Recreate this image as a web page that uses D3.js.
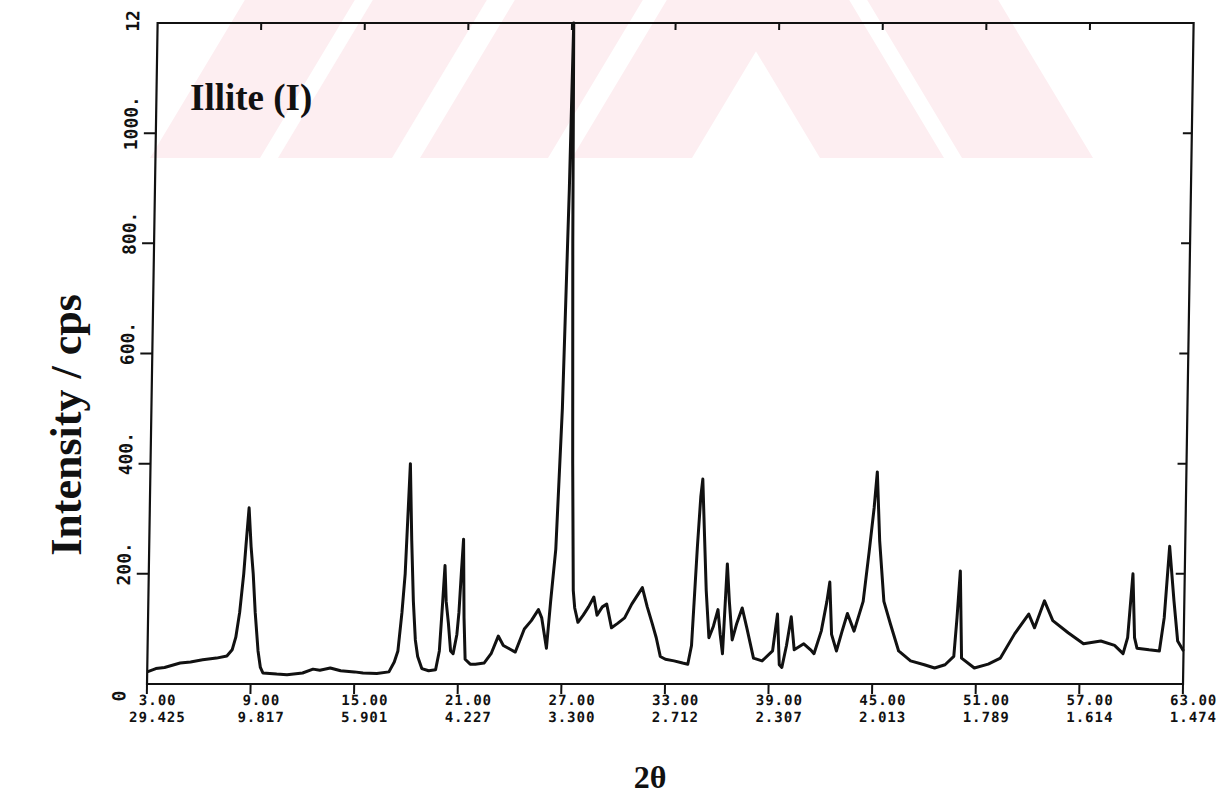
<!DOCTYPE html>
<html lang="en">
<head>
<meta charset="UTF-8">
<title>illite-xrd</title>
<script src="https://cdn.jsdelivr.net/npm/d3@7/dist/d3.min.js"></script>
<style>
    body { margin: 0; background: #fff; }
    svg { display: block; }
    .tick-label {
        font-family: "DejaVu Sans Mono", monospace;
        font-weight: bold;
        fill: #111;
    }
    .title {
        font-family: "Liberation Serif", "Times New Roman", serif;
        font-weight: bold;
        fill: #111;
    }
</style>
</head>
<body>
<svg class="chart"></svg>
<script>
    // diffractogram (2theta in degrees, counts per second)
    var twoTheta = [3.0, 3.5, 4.0, 4.9, 5.5, 6.2, 7.0, 7.6, 7.9, 8.1, 8.3, 8.5, 8.6, 8.75, 8.9, 9.05, 9.2, 9.4, 9.55, 9.7,
        10.5, 11.1, 12.0, 12.6, 13.0, 13.6, 14.2, 15.0, 15.5, 16.3, 17.0, 17.3, 17.5, 17.7, 17.85, 17.95, 18.05, 18.2, 18.35, 18.5,
        18.65, 18.9, 19.3, 19.7, 19.9, 20.05, 20.15, 20.25, 20.4, 20.55, 20.7, 20.9, 21.0, 21.1, 21.2, 21.3, 21.4, 21.7, 22.0, 22.5,
        22.9, 23.3, 23.6, 24.0, 24.3, 24.8, 25.2, 25.6, 25.8, 26.1, 26.3, 26.55, 26.8, 27.0, 27.1, 27.25, 27.45, 27.6, 27.7, 27.9,
        28.2, 28.5, 28.8, 29.0, 29.3, 29.55, 29.85, 30.2, 30.6, 31.0, 31.3, 31.6, 31.9, 32.2, 32.45, 32.7, 33.0, 33.5, 34.0, 34.3,
        34.5, 34.75, 34.9, 35.0, 35.15, 35.3, 35.5, 35.75, 36.0, 36.15, 36.3, 36.5, 36.65, 36.85, 37.1, 37.4, 37.7, 38.1, 38.6, 39.2,
        39.45, 39.6, 39.75, 40.0, 40.25, 40.45, 41.0, 41.4, 41.6, 42.0, 42.3, 42.45, 42.6, 42.9, 43.2, 43.5, 43.9, 44.4, 44.7, 44.95,
        45.1, 45.3, 45.6, 46.0, 46.5, 47.2, 48.0, 48.6, 49.2, 49.7, 49.85, 50.0, 50.15, 50.9, 51.7, 52.4, 53.2, 54.0, 54.35, 54.9,
        55.4, 56.3, 57.2, 58.2, 59.0, 59.5, 59.75, 60.0, 60.15, 60.3, 61.0, 61.6, 61.85, 62.1, 62.4, 62.65, 63.0];
    var intensity = [22, 28, 30, 38, 40, 44, 47, 51, 62, 85, 130, 200, 250, 320, 250, 200, 130, 60, 30, 20,
        18, 17, 20, 27, 25, 29, 24, 22, 20, 19, 22, 40, 60, 130, 200, 300, 400, 260, 150, 80,
        50, 28, 24, 26, 60, 150, 215, 150, 110, 60, 55, 90, 130, 200, 263, 120, 45, 36, 36, 38,
        55, 87, 70, 63, 58, 100, 115, 135, 120, 65, 150, 245, 500, 900, 1200, 800, 400, 170, 138, 112,
        125, 140, 158, 125, 140, 145, 102, 110, 120, 145, 160, 175, 140, 110, 84, 50, 45, 42, 38, 36,
        70, 250, 340, 372, 270, 170, 84, 105, 135, 90, 55, 218, 150, 80, 110, 138, 100, 47, 42, 60,
        127, 35, 30, 70, 122, 62, 73, 62, 55, 96, 150, 185, 90, 60, 95, 128, 96, 150, 240, 320,
        385, 260, 150, 109, 60, 42, 35, 29, 35, 50, 120, 205, 47, 29, 36, 47, 91, 127, 102, 151,
        115, 93, 73, 78, 70, 55, 84, 200, 84, 65, 62, 60, 120, 250, 151, 78, 60];

    var xTicks = [3, 9, 15, 21, 27, 33, 39, 45, 51, 57, 63];
    var xTickLabels = ["3.00", "9.00", "15.00", "21.00", "27.00", "33.00", "39.00", "45.00", "51.00", "57.00", "63.00"];
    var dSpacingLabels = ["29.425", "9.817", "5.901", "4.227", "3.300", "2.712", "2.307", "2.013", "1.789", "1.614", "1.474"];
    var yTicks = [0, 200, 400, 600, 800, 1000, 1200];
    var yTickLabels = ["0", "200.", "400.", "600.", "800.", "1000.", "12"];

    var width = 1232;
    var height = 803;

    var svg = d3.select('.chart')
        .attr('width', width)
        .attr('height', height);

    var x = d3.scaleLinear().domain([3, 63]).range([147, 1183]);
    var y = d3.scaleLinear().domain([0, 1200]).range([684, 23]);

    // faint pink watermark stripes across the top of the scan
    var wm = svg.append('g');
    wm.append('clipPath').attr('id', 'wmclip')
        .append('rect').attr('x', 145).attr('y', 0).attr('width', 950).attr('height', 158);
    var stripes = [[150, 260, 1], [278, 392, 1], [420, 548, 1], [572, 692, 1], [820, 944, -1], [962, 1093, -1]];
    wm.append('g')
        .attr('clip-path', 'url(#wmclip)')
        .selectAll('polygon')
        .data(stripes)
        .enter()
        .append('polygon')
        .attr('points', function (s) {
            var dx = s[2] * 0.6 * 158;
            return [[s[0], 158], [s[1], 158], [s[1] + dx, 0], [s[0] + dx, 0]].join(' ');
        })
        .attr('fill', '#fdeef1');

    // the scan is slightly sheared: tops of verticals lean right
    var plot = svg.append('g')
        .attr('transform', 'translate(0,684) skewX(-0.92) translate(0,-684)');

    // frame
    plot.append('rect')
        .attr('x', x(3)).attr('y', y(1200))
        .attr('width', x(63) - x(3)).attr('height', y(0) - y(1200))
        .attr('fill', 'none')
        .attr('stroke', '#111')
        .attr('stroke-width', 2.2);

    // bottom ticks and labels
    var xt = plot.append('g').selectAll('g')
        .data(xTicks)
        .enter()
        .append('g')
        .attr('transform', function (d) { return 'translate(' + x(d) + ',0)'; });
    xt.append('line')
        .attr('y1', y(0)).attr('y2', y(0) + 10)
        .attr('stroke', '#111').attr('stroke-width', 2);
    xt.append('text')
        .attr('class', 'tick-label')
        .attr('font-size', 14)
        .attr('letter-spacing', 1)
        .attr('x', 11).attr('y', y(0) + 21)
        .attr('text-anchor', 'middle')
        .text(function (d, i) { return xTickLabels[i]; });
    xt.append('text')
        .attr('class', 'tick-label')
        .attr('font-size', 14)
        .attr('letter-spacing', 1)
        .attr('x', 11).attr('y', y(0) + 38)
        .attr('text-anchor', 'middle')
        .text(function (d, i) { return dSpacingLabels[i]; });

    // top ticks
    plot.append('g').selectAll('line')
        .data(xTicks.slice(1, -1))
        .enter()
        .append('line')
        .attr('x1', function (d) { return x(d); })
        .attr('x2', function (d) { return x(d); })
        .attr('y1', y(1200)).attr('y2', y(1200) + 7)
        .attr('stroke', '#111').attr('stroke-width', 2);

    // left ticks (outside) and right ticks (inside)
    var inner = yTicks.slice(1, -1);
    plot.append('g').selectAll('line')
        .data(inner)
        .enter()
        .append('line')
        .attr('x1', x(3) - 12).attr('x2', x(3))
        .attr('y1', function (d) { return y(d); })
        .attr('y2', function (d) { return y(d); })
        .attr('stroke', '#111').attr('stroke-width', 2);
    plot.append('g').selectAll('line')
        .data(inner)
        .enter()
        .append('line')
        .attr('x1', x(63) - 9).attr('x2', x(63))
        .attr('y1', function (d) { return y(d); })
        .attr('y2', function (d) { return y(d); })
        .attr('stroke', '#111').attr('stroke-width', 2);

    // rotated y tick labels
    plot.append('g').selectAll('text')
        .data(yTicks)
        .enter()
        .append('text')
        .attr('class', 'tick-label')
        .attr('font-size', 18)
        .attr('text-anchor', 'middle')
        .attr('dominant-baseline', 'central')
        .attr('transform', function (d) {
            var ty = d === 0 ? y(d) + 12 : (d === 1200 ? y(d) - 2 : y(d) - 10);
            var tx = d === 0 ? 119 : 122;
            return 'translate(' + tx + ',' + ty + ') rotate(-90)';
        })
        .text(function (d, i) { return yTickLabels[i]; });

    // pattern
    var points = twoTheta.map(function (t, i) { return [t, intensity[i]]; });
    var line = d3.line()
        .x(function (d) { return x(d[0]); })
        .y(function (d) { return y(d[1]); });
    plot.append('path')
        .datum(points)
        .attr('d', line)
        .attr('fill', 'none')
        .attr('stroke', '#111')
        .attr('stroke-width', 3)
        .attr('stroke-linejoin', 'round');

    // titles
    svg.append('text')
        .attr('class', 'title')
        .attr('x', 190).attr('y', 110)
        .attr('font-size', 37)
        .text('Illite (I)');
    svg.append('text')
        .attr('class', 'title')
        .attr('text-anchor', 'middle')
        .attr('font-size', 44)
        .attr('transform', 'translate(81,425) rotate(-90)')
        .text('Intensity / cps');
    svg.append('text')
        .attr('class', 'title')
        .attr('text-anchor', 'middle')
        .attr('x', 650).attr('y', 788)
        .attr('font-size', 32)
        .text('2θ');
</script>
</body>
</html>
